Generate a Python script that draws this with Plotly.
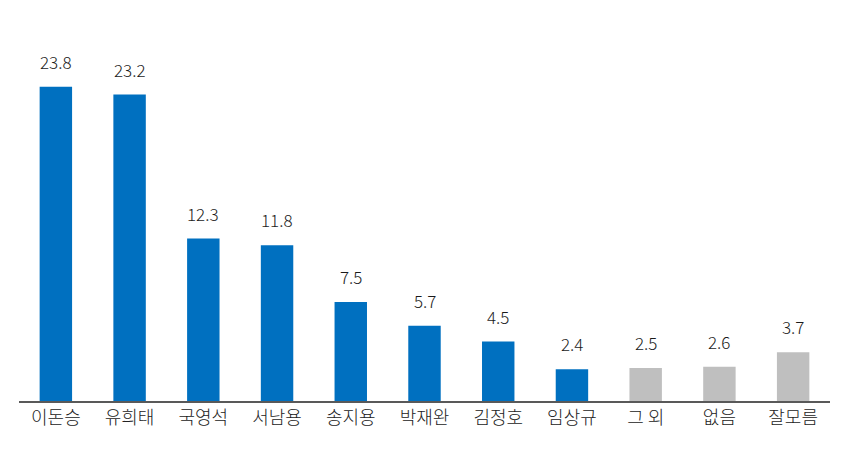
import plotly.graph_objects as go

names = ["이돈승", "유희태", "국영석", "서남용", "송지용", "박재완", "김정호", "임상규", "그 외", "없음", "잘모름"]
values = [23.8, 23.2, 12.3, 11.8, 7.5, 5.7, 4.5, 2.4, 2.5, 2.6, 3.7]
colors = ["#0070C0"] * 8 + ["#BFBFBF"] * 3

fig = go.Figure(go.Bar(x=names, y=values, marker_color=colors, marker_line_width=0))

for n, v in zip(names, values):
    fig.add_annotation(x=n, y=v, text=str(v), showarrow=False, yanchor="bottom",
                       yshift=11, font=dict(size=17, color="#1a1a1a", weight=300))

# page body has an 8px margin, so shift margins accordingly
fig.update_layout(
    width=850, height=464,
    margin=dict(l=11, r=28, t=43, b=71),
    plot_bgcolor="white", paper_bgcolor="white",
    bargap=0.56, showlegend=False,
    font=dict(family="Noto Sans CJK KR", size=16, color="#222222"),
)
fig.update_xaxes(showline=True, linecolor="#595959", linewidth=1.5, ticks="", ticklen=0,
                 tickfont=dict(size=18, color="#222222", weight=300))
fig.update_yaxes(range=[0, 26.5], visible=False)

fig.write_html("out.html")
